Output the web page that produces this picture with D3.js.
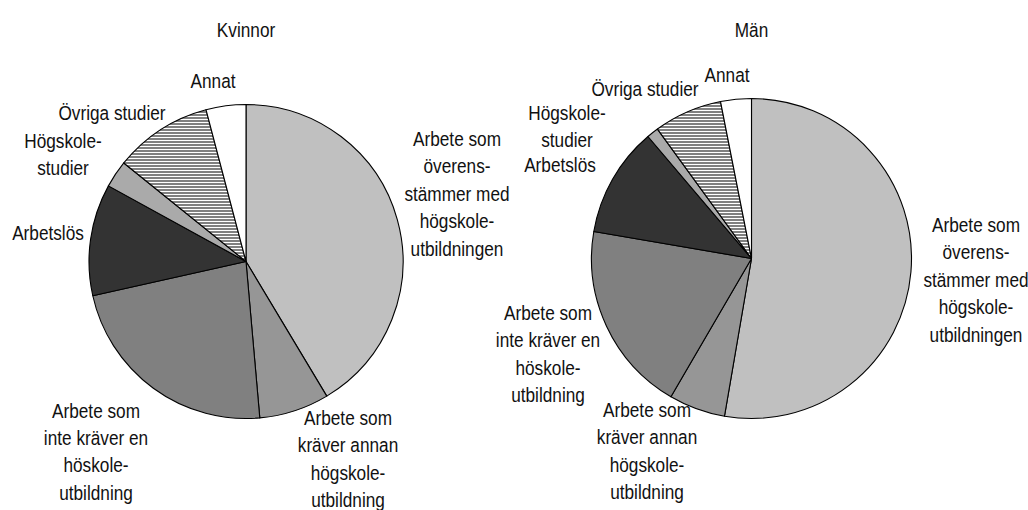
<!DOCTYPE html>
<html><head><meta charset="utf-8">
<script src="https://cdn.jsdelivr.net/npm/d3@7"></script>
<style>
html,body{margin:0;padding:0;background:#fff;}
svg text{font-family:"Liberation Sans",Arial,sans-serif;font-size:20.5px;fill:#111;}
</style></head>
<body>
<svg id="chart" width="1028" height="510"></svg>
<script>
// ---- data ----
const categories = ["Arbete som överensstämmer med högskoleutbildningen",
  "Arbete som kräver annan högskoleutbildning",
  "Arbete som inte kräver en höskoleutbildning",
  "Arbetslös", "Högskolestudier", "Övriga studier", "Annat"];
const kvinnorValues = [41.4, 7.2, 22.9, 11.5, 2.8, 10.1, 4.1];
const manValues     = [52.7, 5.7, 19.3, 11.1, 1.2, 6.9, 3.1];
const titles = ["Kvinnor", "Män"];
const kvinnorLabels = [
  ["Arbete som","överens-","stämmer med","högskole-","utbildningen"],
  ["Arbete som","kräver annan","högskole-","utbildning"],
  ["Arbete som","inte kräver en","höskole-","utbildning"],
  ["Arbetslös"],
  ["Högskole-","studier"],
  ["Övriga studier"],
  ["Annat"]];
const manLabels = [
  ["Arbete som","överens-","stämmer med","högskole-","utbildningen"],
  ["Arbete som","kräver annan","högskole-","utbildning"],
  ["Arbete som","inte kräver en","höskole-","utbildning"],
  ["Arbetslös"],
  ["Högskole-","studier"],
  ["Övriga studier"],
  ["Annat"]];

// ---- layout / style ----
const fills = ["#c0c0c0","#969696","#808080","#333333","url(#dots)","url(#hlines)","#ffffff"];
const panels = [
  {values:kvinnorValues, labels:kvinnorLabels, title:titles[0], cx:246, cy:261.5, r:157, titleY:37,
   labelPos:[[457,146],[348,425],[96,417.5],[48,240],[63,147.5],[112,120],[213,88.3]]},
  {values:manValues, labels:manLabels, title:titles[1], cx:751.5, cy:258.5, r:160, titleY:37,
   labelPos:[[976,232],[647,416.7],[548,320],[560,171.7],[567,120],[645,96],[727,81.7]]}
];
const lineH = 27.5;
const sx = 0.84; // condensed look

const svg = d3.select("#chart");
const defs = svg.append("defs");
const hl = defs.append("pattern").attr("id","hlines").attr("patternUnits","userSpaceOnUse")
  .attr("width",4).attr("height",3);
hl.append("rect").attr("width",4).attr("height",3).attr("fill","#fff");
hl.append("rect").attr("y",0).attr("width",4).attr("height",1).attr("fill","#000");
const dt = defs.append("pattern").attr("id","dots").attr("patternUnits","userSpaceOnUse")
  .attr("width",2).attr("height",2);
dt.append("rect").attr("width",2).attr("height",2).attr("fill","#fff");
[[0,0],[1,1]].forEach(p=>dt.append("rect").attr("x",p[0]).attr("y",p[1]).attr("width",1).attr("height",1).attr("fill","#555"));

const pie = d3.pie().sort(null).value(d=>d).startAngle(0).endAngle(2*Math.PI);

function label(x, y, lines){
  const t = svg.append("text").attr("text-anchor","middle")
    .attr("transform",`translate(${x},${y}) scale(${sx},1)`);
  lines.forEach((ln,j)=>{
    t.append("tspan").attr("x",0).attr("y",j*lineH).text(ln);
  });
}

panels.forEach(p=>{
  const arc = d3.arc().innerRadius(0).outerRadius(p.r);
  const g = svg.append("g").attr("transform",`translate(${p.cx},${p.cy})`);
  g.selectAll("path").data(pie(p.values)).join("path")
    .attr("d",arc)
    .attr("fill",(d,i)=>fills[i])
    .attr("stroke","#000").attr("stroke-width",1.1).attr("stroke-linejoin","round");
  label(p.cx, p.titleY, [p.title]);
  p.labels.forEach((lines,i)=>label(p.labelPos[i][0], p.labelPos[i][1], lines));
});
</script>
</body></html>
